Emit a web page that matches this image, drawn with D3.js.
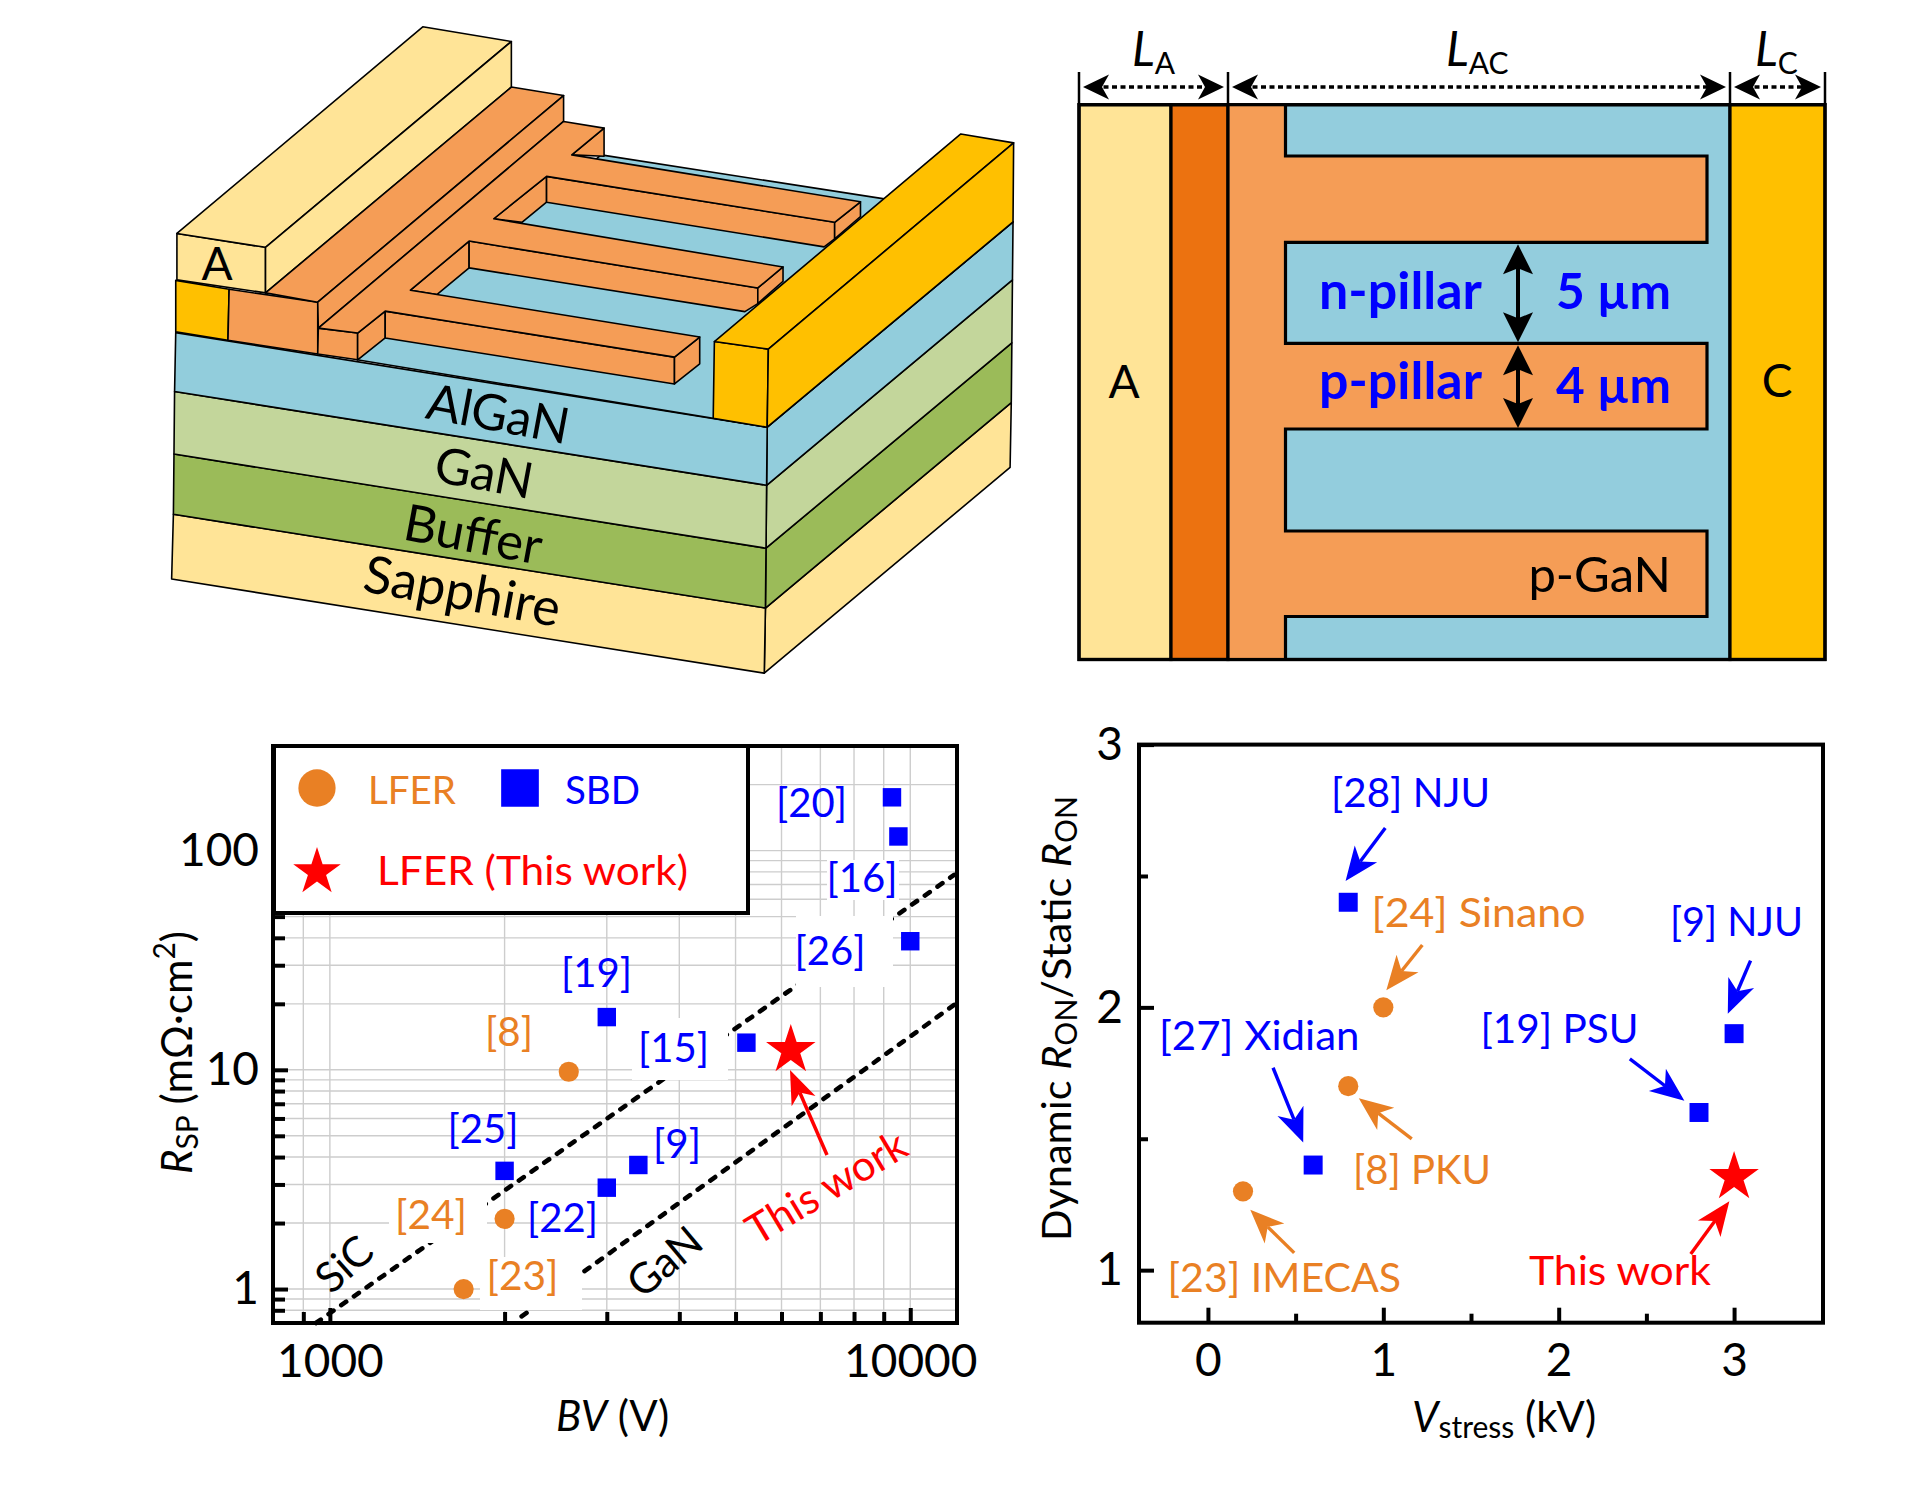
<!DOCTYPE html>
<html>
<head>
<meta charset="utf-8">
<script src="https://cdnjs.cloudflare.com/ajax/libs/d3/7.8.5/d3.min.js"></script>
<style>
html,body{margin:0;padding:0;background:#fff}
svg{display:block}
text{font-family:Lato,"Open Sans",sans-serif}
</style>
</head>
<body>
<svg id="c" width="1917" height="1490" viewBox="0 0 1917 1490"></svg>
<script>
/* ---------- data ---------- */
const bvSbd = [9300, 9540, 10000, 3000, 5220, 2000, 3400, 3000];
const rspSbd = [175, 116, 38.6, 17.4, 13.3, 3.46, 3.68, 2.9];
const bvLfer = [2580, 2000, 1700];
const rspLfer = [9.8, 2.09, 1.0];
const bvStar = [6225];
const rspStar = [12.3];
const sicLineBv = [946, 11900];
const sicLineRsp = [0.7, 77.4];
const ganLineBv = [2140, 12000];
const ganLineRsp = [0.75, 20.1];
const bvMajorTicks = [1000, 10000];
const bvMinorTicks = [900, 2000, 3000, 4000, 5000, 6000, 7000, 8000, 9000];
const rspMajorTicks = [1, 10, 100];
const rspMinorTicks = [0.8, 0.9, 2, 3, 4, 5, 6, 7, 8, 9, 20, 30, 40, 50, 60, 70, 80, 90, 200];

const vSbd = [0.8, 0.6, 2.8, 3];
const ratioSbd = [2.4, 1.4, 1.6, 1.9];
const vLfer = [1, 0.8, 0.2];
const ratioLfer = [2, 1.7, 1.3];
const vStar = [3];
const ratioStar = [1.354];
const vMajorTicks = [0, 1, 2, 3];
const vMinorTicks = [0.5, 1.5, 2.5];
const ratioMajorTicks = [1, 2, 3];
const ratioMinorTicks = [1.5, 2.5];

const BLUE = "#0000FF", ORANGE = "#E98024", RED = "#FF0000";
const svg = d3.select("#c");

/* helpers */
function arrow(g, x0, y0, x1, y1, color, len, hw, sw) {
  const a = Math.atan2(y1 - y0, x1 - x0), c = Math.cos(a), s = Math.sin(a);
  const bx = x1 - c * len, by = y1 - s * len;
  const nx = x1 - c * len * 0.72, ny = y1 - s * len * 0.72;
  g.append("line").attr("x1", x0).attr("y1", y0).attr("x2", nx).attr("y2", ny)
    .attr("stroke", color).attr("stroke-width", sw);
  g.append("path").attr("fill", color)
    .attr("d", d3.line()([[x1, y1], [bx - s * hw, by + c * hw], [nx, ny], [bx + s * hw, by - c * hw]]) + "Z");
}
function txt(g, x, y, parts, opt) {
  opt = opt || {};
  const t = g.append("text").attr("x", x).attr("y", y)
    .attr("fill", opt.fill || "#000").attr("font-size", opt.size || 38)
    .attr("text-anchor", opt.anchor || "start").attr("font-weight", opt.weight || null);
  if (opt.rotate !== undefined) t.attr("transform", `rotate(${opt.rotate} ${x} ${y})`);
  if (opt.len) t.attr("textLength", opt.len).attr("lengthAdjust", "spacingAndGlyphs");
  if (typeof parts === "string") { t.text(parts); return t; }
  parts.forEach(p => {
    const s = t.append("tspan").text(p.t);
    if (p.i) s.attr("font-style", "italic");
    if (p.s) s.attr("font-size", p.s);
    if (p.dy) s.attr("dy", p.dy);
    if (p.dx) s.attr("dx", p.dx);
  });
  return t;
}
const symbolPath = (type, size) => d3.symbol().type(type).size(size)();

/* ---------- 3D schematic (schematic units mapped by scales) ---------- */
const sx = d3.scaleLinear().domain([0, 920 * 1.7043]).range([120, 1040]);
const sy = d3.scaleLinear().domain([0, 700 * 2.24]).range([0, 700]);
const C_BLUE = "#92CDDC", C_GAN = "#C3D69B", C_BUF = "#9BBB59", C_SAP = "#FFE497", C_GOLD = "#FFC000", C_OR = "#F59D56", C_DK = "#EC7210";
const polys3d = [
  // side faces
  [C_SAP, [[1100,1362],[1519,902],[1517,1047],[1098,1508]]],
  [C_BUF, [[1101,1228],[1520,768],[1519,902],[1100,1362]]],
  [C_GAN, [[1102,1087],[1521,627],[1520,768],[1101,1228]]],
  [C_BLUE, [[1103,957],[1522,497],[1521,627],[1102,1087]]],
  // front faces
  [C_SAP, [[91,1152],[1100,1362],[1098,1508],[88,1297]]],
  [C_BUF, [[92,1017],[1101,1228],[1100,1362],[91,1152]]],
  [C_GAN, [[93,877],[1102,1087],[1101,1228],[92,1017]]],
  [C_BLUE, [[95,745],[1103,957],[1102,1087],[93,877]]],
  // AlGaN top surface
  [C_BLUE, [[404,806],[1011,937],[1103,957],[1522,497],[1300,445],[820,347]]],
  // anode metal stack
  [C_GOLD, [[95,628],[186,648],[184,762],[95,743]]],
  [C_OR, [[186,648],[337,677],[337,793],[184,762]]],
  [C_SAP, [[97,523],[248,554],[248,656],[97,627]]],
  [C_SAP, [[97,523],[516,60],[667,93],[248,554]]],
  [C_SAP, [[248,554],[667,93],[667,195],[248,656]]],
  // p-GaN raised strip
  [C_OR, [[248,656],[667,195],[756,214],[337,677]]],
  [C_OR, [[337,677],[756,214],[756,272],[338,735]]],
  [C_OR, [[770,347],[825,287],[825,350]]],
  // finger walls
  [C_OR, [[637,490],[727,395],[727,453],[685,498]]],
  [C_OR, [[727,395],[1218,498],[1218,535],[1200,553],[727,453]]],
  [C_OR, [[1218,498],[1262,452],[1262,485],[1218,535]]],
  [C_OR, [[495,650],[595,540],[595,600],[540,660]]],
  [C_OR, [[595,540],[1087,645],[1087,680],[1065,698],[595,600]]],
  [C_OR, [[1087,645],[1130,598],[1130,630],[1087,680]]],
  [C_OR, [[338,735],[405,746],[405,806],[337,793]]],
  [C_OR, [[405,746],[452,697],[452,757],[405,806]]],
  [C_OR, [[452,697],[945,800],[945,860],[452,757]]],
  [C_OR, [[945,800],[988,755],[988,815],[945,860]]],
  // comb top face
  [C_OR, [[338,735],[756,272],[825,287],[770,347],[1262,452],[1218,498],[727,395],[637,490],[1130,598],[1087,645],[595,540],[495,650],[988,755],[945,800],[452,697],[405,746]]],
  // cathode
  [C_GOLD, [[1013,765],[1105,782],[1103,957],[1011,937]]],
  [C_GOLD, [[1013,765],[1433,300],[1523,320],[1105,782]]],
  [C_GOLD, [[1105,782],[1523,320],[1522,497],[1103,957]]]
];
const g3d = svg.append("g");
g3d.selectAll("path").data(polys3d).join("path")
  .attr("d", d => d3.line().x(p => sx(p[0])).y(p => sy(p[1]))(d[1]) + "Z")
  .attr("fill", d => d[0]).attr("stroke", "#000").attr("stroke-width", 1.6).attr("stroke-linejoin", "round");
txt(g3d, 217, 280, "A", {size: 46, anchor: "middle"});
const ANG = 10.5;
[["AlGaN", 495, 431, 50], ["GaN", 481, 490, 50], ["Buffer", 470, 552, 51], ["Sapphire", 459, 609, 52]].forEach(d => {
  txt(g3d, d[1], d[2], d[0], {size: d[3], anchor: "middle", rotate: ANG});
});

/* ---------- plan view ---------- */
const planX = [1079, 1171, 1228, 1285.5, 1707, 1730, 1825];
const planY = [104.7, 156, 242.3, 343.3, 429, 531, 616.5, 659.5];
const gp = svg.append("g");
const rectP = (x0, x1, fill) => gp.append("rect").attr("x", x0).attr("y", planY[0]).attr("width", x1 - x0)
  .attr("height", planY[7] - planY[0]).attr("fill", fill).attr("stroke", "#000").attr("stroke-width", 3.2);
rectP(planX[2], planX[5], C_BLUE).attr("fill", "#93CDDD");
rectP(planX[0], planX[1], C_SAP);
rectP(planX[1], planX[2], C_DK);
rectP(planX[5], planX[6], C_GOLD);
const combPts = [[2,0],[3,0],[3,1],[4,1],[4,2],[3,2],[3,3],[4,3],[4,4],[3,4],[3,5],[4,5],[4,6],[3,6],[3,7],[2,7]]
  .map(p => [planX[p[0]], planY[p[1]]]);
gp.append("path").attr("d", d3.line()(combPts) + "Z").attr("fill", C_OR).attr("stroke", "none");
gp.append("path").attr("d", d3.line()(combPts.slice(1, 15))).attr("fill", "none").attr("stroke", "#000").attr("stroke-width", 3.2);
gp.append("line").attr("x1", planX[2]).attr("x2", planX[2]).attr("y1", planY[0]).attr("y2", planY[7]).attr("stroke", "#000").attr("stroke-width", 3.2);
gp.append("rect").attr("x", planX[0]).attr("y", planY[0]).attr("width", planX[6] - planX[0]).attr("height", planY[7] - planY[0])
  .attr("fill", "none").attr("stroke", "#000").attr("stroke-width", 3.2);

// dimension arrows
const dimEdges = [planX[0], planX[2], planX[5], planX[6]];
dimEdges.forEach(x => gp.append("line").attr("x1", x).attr("x2", x).attr("y1", 72).attr("y2", planY[0]).attr("stroke", "#000").attr("stroke-width", 2.5));
[[0, 1], [1, 2], [2, 3]].forEach(p => {
  const a = dimEdges[p[0]] + 4, b = dimEdges[p[1]] - 4;
  gp.append("line").attr("x1", a + 12).attr("x2", b - 12).attr("y1", 87).attr("y2", 87)
    .attr("stroke", "#000").attr("stroke-width", 3.6).attr("stroke-dasharray", "5 3.5");
  const head = (tipX, dir) => gp.append("path").attr("fill", "#000").attr("d", d3.line()([
    [tipX, 87], [tipX + dir * 26, 74.5], [tipX + dir * 19, 87], [tipX + dir * 26, 99.5]]) + "Z");
  head(a, 1); head(b, -1);
});
txt(gp, 1132, 66, [{t: "L", i: 1, s: 48}, {t: "A", s: 30, dy: 8}]);
txt(gp, 1446, 66, [{t: "L", i: 1, s: 48}, {t: "AC", s: 30, dy: 8}]);
txt(gp, 1755, 66, [{t: "L", i: 1, s: 48}, {t: "C", s: 30, dy: 8}]);

// pillar arrows
function dbl(y0, y1) {
  const x = 1518;
  gp.append("line").attr("x1", x).attr("x2", x).attr("y1", y0 + 22).attr("y2", y1 - 22).attr("stroke", "#000").attr("stroke-width", 4);
  const h = (tip, dir) => gp.append("path").attr("fill", "#000").attr("d", d3.line()([
    [x, tip], [x + 15, tip + dir * 30], [x, tip + dir * 24], [x - 15, tip + dir * 30]]) + "Z");
  h(y0 + 2, 1); h(y1 - 1, -1);
}
dbl(planY[2], planY[3]);
dbl(planY[3], planY[4]);
txt(gp, 1319, 309, "n-pillar", {fill: BLUE, weight: 700, size: 51, len: 163});
txt(gp, 1556, 309, "5 µm", {fill: BLUE, weight: 700, size: 49, len: 115});
txt(gp, 1319, 399, "p-pillar", {fill: BLUE, weight: 700, size: 51, len: 163});
txt(gp, 1556, 403, "4 µm", {fill: BLUE, weight: 700, size: 49, len: 115});
txt(gp, 1124, 398, "A", {size: 46, anchor: "middle"});
txt(gp, 1777, 397, "C", {size: 46, anchor: "middle"});
txt(gp, 1671, 592, "p-GaN", {size: 49, anchor: "end"});

/* ---------- left plot ---------- */
const L = {l: 273, r: 957, t: 746, b: 1323};
const xL = d3.scaleLog().domain([798, 12037]).range([L.l, L.r]);
const yL = d3.scaleLog().domain([0.7, 300]).range([L.b, L.t]);
const gl = svg.append("g");
const gridCol = "#CDCDCD";
[...bvMajorTicks, ...bvMinorTicks].forEach(v => gl.append("line").attr("x1", xL(v)).attr("x2", xL(v)).attr("y1", L.t).attr("y2", L.b).attr("stroke", gridCol).attr("stroke-width", 1.4));
[...rspMajorTicks, ...rspMinorTicks].forEach(v => gl.append("line").attr("y1", yL(v)).attr("y2", yL(v)).attr("x1", L.l).attr("x2", L.r).attr("stroke", gridCol).attr("stroke-width", 1.4));

const dashLine = (xs, ys) => gl.append("path").attr("d", d3.line().x(i => xL(xs[i])).y(i => yL(ys[i]))([0, 1]))
  .attr("stroke", "#000").attr("stroke-width", 4.6).attr("fill", "none")
  .attr("stroke-dasharray", "6 9.5").attr("stroke-linecap", "round");
dashLine(sicLineBv, sicLineRsp);
dashLine(ganLineBv, ganLineRsp);

// white backgrounds behind the labels
[[632, 1018, 96, 62], [796, 916, 97, 71], [389, 1198, 98, 45], [480, 1257, 102, 53], [827, 860, 72, 40]].forEach(r =>
  gl.append("rect").attr("x", r[0]).attr("y", r[1]).attr("width", r[2]).attr("height", r[3]).attr("fill", "#fff"));

function axisStyle(g, w) {
  g.select(".domain").remove();
  g.selectAll(".tick line").attr("stroke", "#000").attr("stroke-width", w);
  g.selectAll(".tick text").attr("fill", "#000").attr("font-family", "Lato").attr("font-size", 46);
}
axisStyle(gl.append("g").attr("transform", `translate(0,${L.b})`)
  .call(d3.axisBottom(xL).tickValues(bvMinorTicks).tickSize(-11).tickFormat("")), 4);
axisStyle(gl.append("g").attr("transform", `translate(0,${L.b})`)
  .call(d3.axisBottom(xL).tickValues(bvMajorTicks).tickSize(-15).tickPadding(21).tickFormat(d3.format("d"))), 4);
axisStyle(gl.append("g").attr("transform", `translate(${L.l},0)`)
  .call(d3.axisLeft(yL).tickValues(rspMinorTicks).tickSize(-12).tickFormat("")), 4);
axisStyle(gl.append("g").attr("transform", `translate(${L.l},0)`)
  .call(d3.axisLeft(yL).tickValues(rspMajorTicks).tickSize(-15).tickPadding(14).tickFormat(d3.format("d"))), 4);
gl.selectAll(".tick text").attr("dy", function() { return d3.select(this).attr("dy"); });
gl.append("rect").attr("x", L.l).attr("y", L.t).attr("width", L.r - L.l).attr("height", L.b - L.t).attr("fill", "none").attr("stroke", "#000").attr("stroke-width", 4);

const scatter = (g, xs, ys, fx, fy, type, size, color) => g.append("g").selectAll("path").data(xs).join("path")
  .attr("d", symbolPath(type, size)).attr("fill", color)
  .attr("transform", (d, i) => `translate(${fx(d)},${fy(ys[i])})`);
scatter(gl, bvSbd, rspSbd, xL, yL, d3.symbolSquare, 340, BLUE);
scatter(gl, bvLfer, rspLfer, xL, yL, d3.symbolCircle, 320, ORANGE);
scatter(gl, bvStar, rspStar, xL, yL, d3.symbolStar, 760, RED);

[["[20]", 776, 817, BLUE, 71], ["[16]", 826.5, 892, BLUE, 71], ["[26]", 794.6, 965, BLUE, 71], ["[19]", 561, 987, BLUE, 71],
 ["[8]", 485, 1046, ORANGE, 48], ["[15]", 638, 1062, BLUE, 71], ["[25]", 447.5, 1143, BLUE, 71], ["[9]", 653, 1158, BLUE, 48],
 ["[22]", 527, 1232, BLUE, 71], ["[24]", 395, 1229, ORANGE, 72], ["[23]", 486.5, 1290, ORANGE, 72]].forEach(d =>
  txt(gl, d[1], d[2], d[0], {fill: d[3], size: 41, len: d[4]}));
txt(gl, 354, 1275, "SiC", {size: 42, anchor: "middle", rotate: -42});
txt(gl, 674, 1273, "GaN", {size: 42, anchor: "middle", rotate: -40});
txt(gl, 834, 1200, "This work", {size: 42, anchor: "middle", fill: RED, rotate: -31});
arrow(gl, 827, 1155, 790, 1070, RED, 34, 13, 3.5);

// legend
gl.append("rect").attr("x", 274).attr("y", 746).attr("width", 474).attr("height", 167).attr("fill", "#fff").attr("stroke", "#000").attr("stroke-width", 4);
gl.append("path").attr("d", symbolPath(d3.symbolCircle, 1090)).attr("fill", ORANGE).attr("transform", "translate(317,788)");
gl.append("path").attr("d", symbolPath(d3.symbolSquare, 1420)).attr("fill", BLUE).attr("transform", "translate(520,788)");
gl.append("path").attr("d", symbolPath(d3.symbolStar, 700)).attr("fill", RED).attr("transform", "translate(317,872)");
txt(gl, 368, 804, "LFER", {fill: ORANGE, size: 39, len: 88});
txt(gl, 565, 804, "SBD", {fill: BLUE, size: 39, len: 75});
txt(gl, 377, 885, "LFER (This work)", {fill: RED, size: 40, len: 311});

// axis titles
txt(gl, 556, 1431, [{t: "BV", i: 1}, {t: " (V)"}], {size: 42});
txt(gl, 192, 1174, [{t: "R", i: 1, s: 42}, {t: "SP", s: 30, dy: 6}, {t: " (mΩ·cm", s: 42, dy: -6}, {t: "2", s: 30, dy: -17}, {t: ")", s: 42, dy: 17}], {rotate: -90});

/* ---------- right plot ---------- */
const R = {l: 1139, r: 1823, t: 744.6, b: 1322.7};
const xR = d3.scaleLinear().domain([-0.393, 3.507]).range([R.l, R.r]);
const yR = d3.scaleLinear().domain([0.8, 3]).range([R.b, R.t]);
const gr = svg.append("g");
axisStyle(gr.append("g").attr("transform", `translate(0,${R.b})`)
  .call(d3.axisBottom(xR).tickValues(vMinorTicks).tickSize(-9).tickFormat("")), 4);
axisStyle(gr.append("g").attr("transform", `translate(0,${R.b})`)
  .call(d3.axisBottom(xR).tickValues(vMajorTicks).tickSize(-15).tickPadding(21).tickFormat(d3.format("d"))), 4);
axisStyle(gr.append("g").attr("transform", `translate(${R.l},0)`)
  .call(d3.axisLeft(yR).tickValues(ratioMinorTicks).tickSize(-9).tickFormat("")), 4);
axisStyle(gr.append("g").attr("transform", `translate(${R.l},0)`)
  .call(d3.axisLeft(yR).tickValues(ratioMajorTicks).tickSize(-15).tickPadding(16).tickFormat(d3.format("d"))), 4);
gr.append("rect").attr("x", R.l).attr("y", R.t).attr("width", R.r - R.l).attr("height", R.b - R.t).attr("fill", "none").attr("stroke", "#000").attr("stroke-width", 4);

scatter(gr, vSbd, ratioSbd, xR, yR, d3.symbolSquare, 360, BLUE);
scatter(gr, vLfer, ratioLfer, xR, yR, d3.symbolCircle, 320, ORANGE);
scatter(gr, vStar, ratioStar, xR, yR, d3.symbolStar, 760, RED);

[["[28] NJU", 1331, 807, BLUE, 159], ["[24] Sinano", 1371.6, 927, ORANGE, 214], ["[9] NJU", 1670, 936, BLUE, 133],
 ["[27] Xidian", 1159, 1050, BLUE, 200.5], ["[19] PSU", 1480.4, 1043, BLUE, 158], ["[8] PKU", 1353, 1184, ORANGE, 138],
 ["[23] IMECAS", 1167.5, 1292, ORANGE, 233.5], ["This work", 1529, 1285, RED, 182]].forEach(d =>
  txt(gr, d[1], d[2], d[0], {fill: d[3], size: 41, len: d[4]}));

const zx = X => 1020 + X / 1.889, zy = Y => 720 + Y / 2.036;
[[690,220,615,328,BLUE],[760,458,692,550,ORANGE],[1380,490,1337,598,BLUE],[478,708,535,860,BLUE],
 [1152,690,1255,775,BLUE],[740,853,640,770,ORANGE],[518,1085,435,997,ORANGE],[1267,1087,1340,980,RED]].forEach(a =>
  arrow(gr, zx(a[0]), zy(a[1]), zx(a[2]), zy(a[3]), a[4], 34, 14, 3.4));

txt(gr, 1071, 1241, [{t: "Dynamic "}, {t: "R", i: 1}, {t: "ON", s: 30, dy: 6}, {t: "/Static ", dy: -6}, {t: "R", i: 1}, {t: "ON", s: 30, dy: 6}], {rotate: -90, size: 41.5});
txt(gr, 1412, 1432, [{t: "V", i: 1}, {t: "stress", s: 30, dy: 6}, {t: " (kV)", dy: -6}], {size: 42});
</script>
</body>
</html>
